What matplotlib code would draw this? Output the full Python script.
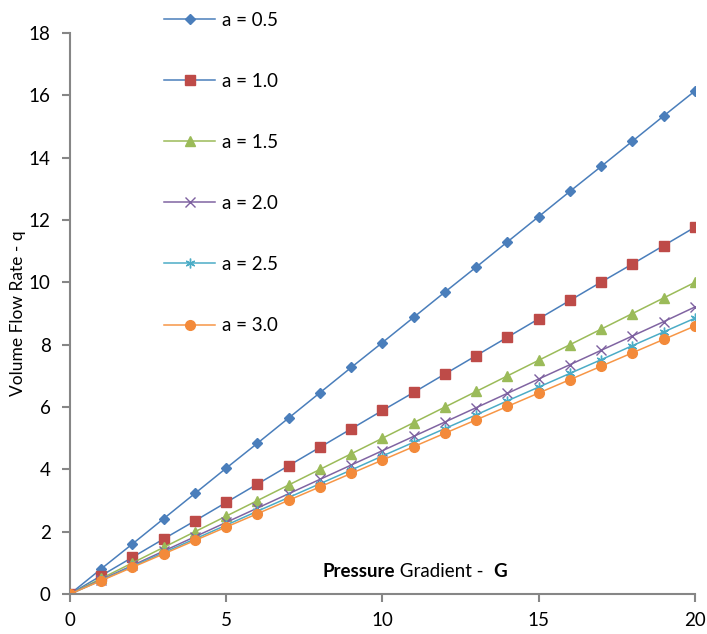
import matplotlib
matplotlib.use("Agg")
import matplotlib.pyplot as plt

plt.rcParams['font.family'] = ['Lato', 'DejaVu Sans']

# Data
G = list(range(0, 21))
q_05 = [0, 0.81, 1.61, 2.42, 3.23, 4.04, 4.84, 5.65, 6.46, 7.27, 8.07,
        8.88, 9.69, 10.49, 11.30, 12.11, 12.92, 13.72, 14.53, 15.34, 16.14]
q_10 = [0, 0.59, 1.18, 1.77, 2.35, 2.94, 3.53, 4.12, 4.71, 5.30, 5.89,
        6.47, 7.06, 7.65, 8.24, 8.83, 9.42, 10.01, 10.59, 11.18, 11.77]
q_15 = [0, 0.50, 1.00, 1.50, 2.00, 2.50, 3.00, 3.50, 4.00, 4.50, 5.00,
        5.50, 6.00, 6.50, 7.00, 7.50, 8.00, 8.50, 9.00, 9.50, 10.00]
q_20 = [0, 0.46, 0.92, 1.38, 1.84, 2.30, 2.76, 3.22, 3.68, 4.14, 4.60,
        5.06, 5.52, 5.98, 6.44, 6.90, 7.36, 7.82, 8.28, 8.74, 9.21]
q_25 = [0, 0.44, 0.89, 1.33, 1.77, 2.21, 2.66, 3.10, 3.54, 3.98, 4.43,
        4.87, 5.31, 5.75, 6.20, 6.64, 7.08, 7.52, 7.97, 8.41, 8.85]
q_30 = [0, 0.43, 0.86, 1.29, 1.72, 2.15, 2.58, 3.01, 3.44, 3.87, 4.30,
        4.73, 5.16, 5.59, 6.02, 6.45, 6.88, 7.31, 7.74, 8.17, 8.60]
labels = ['a = 0.5', 'a = 1.0', 'a = 1.5', 'a = 2.0', 'a = 2.5', 'a = 3.0']

series = [q_05, q_10, q_15, q_20, q_25, q_30]
line_colors = ['#4A7EBB', '#4A7EBB', '#9BBB59', '#8064A2', '#4BACC6', '#F79646']
marker_colors = ['#4A7EBB', '#BE4B48', '#9BBB59', '#7D60A0', '#4BACC6', '#F38A3A']
markers = ['D', 's', '^', 'x', (6, 2, 0), 'o']
sizes = [5, 6.5, 6.5, 7, 7, 7]

fig = plt.figure(figsize=(7.07, 6.34), dpi=100)
ax = fig.add_axes([0.099, 0.063, 0.884, 0.885])

for q, lab, lc, mc, m, s in zip(series, labels, line_colors, marker_colors, markers, sizes):
    ax.plot(G, q, color=lc, lw=1.1, marker=m, markersize=s,
            markerfacecolor=mc, markeredgecolor=mc, markeredgewidth=1.0, label=lab)

ax.set_xlim(0, 20)
ax.set_ylim(0, 18)
ax.set_xticks([0, 5, 10, 15, 20])
ax.set_yticks(range(0, 19, 2))
for sp in ['top', 'right']:
    ax.spines[sp].set_visible(False)
for sp in ['left', 'bottom']:
    ax.spines[sp].set_color('#868686')
    ax.spines[sp].set_linewidth(1.5)
ax.spines['left'].set_zorder(0)
ax.tick_params(axis='both', colors='#868686', width=1.5, length=6,
               labelcolor='black', labelsize=13.5)
ax.tick_params(axis='x', pad=7)
ax.tick_params(axis='y', pad=8)

ax.set_ylabel('Volume Flow Rate - q', fontsize=12.5, labelpad=2)

# x label sits inside the plot, with bold parts
fs = 13.5
t1 = ax.text(0.404, 0.03, 'Pressure', transform=ax.transAxes, fontsize=fs,
             fontweight='bold', ha='left', va='baseline')
t2 = ax.annotate(' Gradient -  ', xy=(1, 0), xycoords=t1, fontsize=fs,
                 ha='left', va='bottom')
ax.annotate('G', xy=(1, 0), xycoords=t2, fontsize=fs, fontweight='bold',
            ha='left', va='bottom')

ax.legend(loc='upper left', bbox_to_anchor=(0.208, 1.008), bbox_transform=fig.transFigure,
          frameon=False, fontsize=13.5, labelspacing=2.35, handlelength=2.75,
          handletextpad=0.35)

fig.savefig('out.png', dpi=100)
